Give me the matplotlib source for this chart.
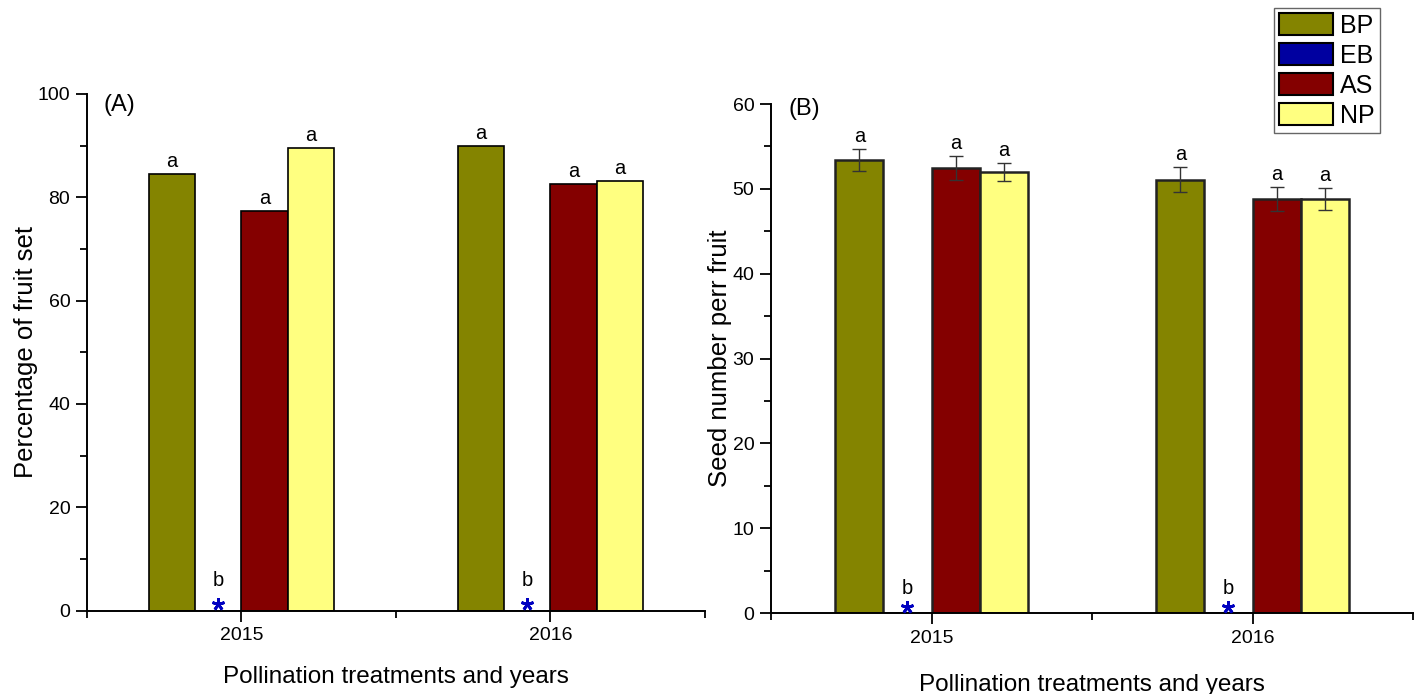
import matplotlib.pyplot as plt
from matplotlib.ticker import MultipleLocator, FixedLocator
from matplotlib.transforms import ScaledTranslation
import numpy as np

plt.rcParams['font.family'] = ['Liberation Sans', 'DejaVu Sans']

# data
years = [2015, 2016]
treatments = ['BP', 'EB', 'AS', 'NP']
colors = ['#848400', '#0000a0', '#840000', '#ffff80']
letters = ['a', 'b', 'a', 'a']

# (A) percentage of fruit set
fruit_bp = [84.5, 89.9]
fruit_eb = [0.0, 0.0]
fruit_as = [77.4, 82.5]
fruit_np = [89.5, 83.2]

# (B) seed number per fruit, with error bars
seed_bp = [53.4, 51.1]
seed_eb = [0.0, 0.0]
seed_as = [52.5, 48.8]
seed_np = [52.0, 48.8]
seed_bp_err = [1.35, 1.45]
seed_eb_err = [0.0, 0.0]
seed_as_err = [1.4, 1.45]
seed_np_err = [1.1, 1.3]

width = 0.15
offsets = [-1.5 * width, -0.5 * width, 0.5 * width, 1.5 * width]

fig = plt.figure(figsize=(14.17, 6.94), dpi=100)
axA = fig.add_axes([0.0614, 0.1203, 0.4361, 0.7443])
axB = fig.add_axes([0.5441, 0.1167, 0.4531, 0.7334])


def draw_panel(ax, series, errs, ymax, major, minor, edge, elw, b_off, tag, tag_y):
    x = np.array(years, dtype=float)
    handles = []
    for i, vals in enumerate(series):
        vals = np.array(vals)
        err = np.array(errs[i]) if errs is not None else np.zeros_like(vals)
        if treatments[i] == 'EB':
            h = ax.bar(x + offsets[i], vals, width, color=colors[i],
                       edgecolor='black', linewidth=1.2)
            handles.append(h)
            # blue asterisk marks the zero value
            trans = ax.transData + ScaledTranslation(0, 6.5 / 100, fig.dpi_scale_trans)
            ax.plot(x + offsets[i], vals, linestyle='none', marker=(5, 2, 0),
                    markersize=9, mew=2.0, color='#0000c0', transform=trans,
                    clip_on=False, zorder=4)
            for xi, v in zip(x + offsets[i], vals):
                ax.annotate(letters[i], (xi, v), xytext=(0, b_off),
                            textcoords='offset points', ha='center',
                            va='baseline', fontsize=14.5)
            continue
        h = ax.bar(x + offsets[i], vals, width, color=colors[i],
                   edgecolor=edge, linewidth=elw, zorder=2)
        handles.append(h)
        if errs is not None:
            ax.errorbar(x + offsets[i], vals, yerr=err, fmt='none',
                        ecolor='#333333', elinewidth=1.0, capsize=5,
                        capthick=1.0, zorder=3)
        for xi, v, e in zip(x + offsets[i], vals, err):
            ax.annotate(letters[i], (xi, v + e), xytext=(0, 5),
                        textcoords='offset points', ha='center',
                        va='baseline', fontsize=14.5)

    ax.set_xlim(2014.5, 2016.5)
    ax.set_ylim(0, ymax)
    ax.xaxis.set_major_locator(FixedLocator(years))
    ax.xaxis.set_minor_locator(FixedLocator([2014.5, 2015.5, 2016.5]))
    ax.set_xticklabels([str(y) for y in years])
    ax.yaxis.set_major_locator(MultipleLocator(major))
    ax.yaxis.set_minor_locator(MultipleLocator(minor))
    for s in ['top', 'right']:
        ax.spines[s].set_visible(False)
    for s in ['left', 'bottom']:
        ax.spines[s].set_linewidth(1.4)
    ax.tick_params(which='major', length=8, width=1.3, labelsize=14, pad=4)
    ax.tick_params(which='minor', length=5, width=1.3)
    ax.text(0.027, tag_y, tag, transform=ax.transAxes,
            ha='left', va='center', fontsize=17)
    return handles


draw_panel(axA, [fruit_bp, fruit_eb, fruit_as, fruit_np], None, 100, 20, 10,
           'black', 1.2, 18, '(A)', 0.978)
hB = draw_panel(axB, [seed_bp, seed_eb, seed_as, seed_np],
                [seed_bp_err, seed_eb_err, seed_as_err, seed_np_err], 60, 10, 5,
                '#222222', 1.8, 14, '(B)', 0.99)

axA.set_ylabel('Percentage of fruit set', fontsize=18.5, labelpad=0)
axA.set_xlabel('Pollination treatments and years', fontsize=17.5, labelpad=16)
axB.set_ylabel('Seed number perr fruit', fontsize=18.5, labelpad=0)
axB.set_xlabel('Pollination treatments and years', fontsize=17.5, labelpad=20)

leg = fig.legend([h for h in hB], treatments, loc='upper left',
                 bbox_to_anchor=(0.899, 0.9885), borderaxespad=0,
                 fontsize=18, handlelength=2.15, handleheight=1.0,
                 labelspacing=0.21, handletextpad=0.3, borderpad=0.2,
                 fancybox=False, framealpha=1, edgecolor='#666666')
leg.get_frame().set_linewidth(1.0)
for p in leg.get_patches():
    p.set_edgecolor('black')
    p.set_linewidth(1.5)

fig.savefig('out.png', dpi=100)
